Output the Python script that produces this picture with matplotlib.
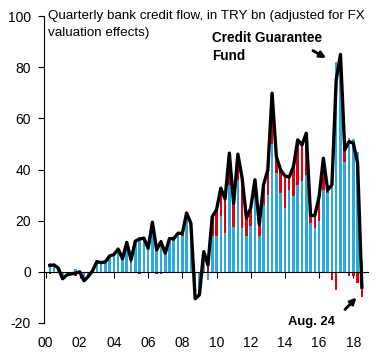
import numpy as np
import matplotlib
matplotlib.use("Agg")
import matplotlib.pyplot as plt

# Quarterly data, 2000Q1 onwards (quarter-end positions)
total = [2.5, 2.7, 1.4, -2.7, -1.2, -0.8, -0.5, 0.0,
         -3.5, -1.8, 0.4, 4.0, 3.6, 3.9, 6.2, 6.8,
         8.9, 5.1, 11.5, 4.7, 12.0, 12.8, 13.2, 9.2,
         19.4, 8.6, 11.8, 7.3, 13.0, 13.0, 15.1, 15.0,
         23.0, 19.0, -10.5, -9.0, 7.9, 2.7, 21.6, 24.2,
         32.7, 28.5, 46.4, 26.8, 46.0, 36.5, 21.0, 24.9,
         36.0, 18.5, 34.0, 39.8, 69.8, 45.0, 39.8, 37.5,
         37.0, 41.1, 51.6, 49.6, 54.2, 22.0, 22.0, 29.4,
         44.4, 32.0, 34.0, 75.0, 85.0, 47.7, 50.9, 50.3,
         42.5, -6.0]
blue = [3.3, 2.7, 1.4, -2.0, -1.2, -0.8, 1.0, 0.5,
        -2.8, -1.8, 0.4, 3.0, 3.6, 3.9, 6.2, 6.8,
        8.9, 5.1, 11.5, 3.5, 12.0, 13.6, 13.2, 9.2,
        19.4, 9.4, 12.6, 7.3, 13.0, 12.0, 15.1, 14.2,
        23.0, 19.0, -10.5, -9.0, 7.9, -3.0, 14.0, 14.0,
        22.0, 15.0, 34.0, 17.7, 36.0, 17.0, 14.0, 18.0,
        29.0, 14.0, 26.0, 30.0, 50.0, 38.5, 31.0, 25.0,
        32.0, 29.5, 34.0, 35.5, 38.0, 19.0, 17.0, 20.0,
        32.0, 31.0, 37.0, 82.0, 85.0, 43.0, 52.5, 52.0,
        47.0, 4.0]
red = [-0.8, 0.0, 0.0, -0.7, 0.0, 0.0, -1.5, -0.5,
       -0.7, 0.0, 0.0, 1.0, 0.0, 0.0, 0.0, 0.0,
       0.0, 0.0, 0.0, 1.2, 0.0, -0.8, 0.0, 0.0,
       0.0, -0.8, -0.8, 0.0, 0.0, 1.0, 0.0, 0.8,
       0.0, 0.0, 0.0, 0.0, 0.0, 3.5, 7.6, 10.2,
       10.7, 13.5, 12.4, 9.1, 10.0, 19.5, 7.0, 6.9,
       7.0, 4.5, 8.0, 9.8, 19.8, 6.5, 8.8, 12.5,
       5.0, 11.6, 17.6, 14.1, 16.2, 3.0, 5.0, 9.4,
       12.4, 1.0, -3.0, -7.0, 0.0, 4.7, -1.6, -1.7,
       -4.5, -10.0]

y_ticks = [-20, 0, 20, 40, 60, 80, 100]
x_tick_years = list(range(2000, 2019, 2))
x_tick_labels = ["00", "02", "04", "06", "08", "10", "12", "14", "16", "18"]

n = len(total)
x = 2000.25 + 0.25 * np.arange(n)
blue_a = np.array(blue)
red_a = np.array(red)

# Excel-like stacking: positives stack on positives, negatives on negatives
red_bottom = np.where(red_a >= 0, np.maximum(blue_a, 0), np.minimum(blue_a, 0))

BLUE = "#29ABE2"
RED = "#E3000F"

plt.rcParams['font.family'] = ['Liberation Sans', 'DejaVu Sans']
fig = plt.figure(figsize=(3.83, 3.60), dpi=100)
ax = fig.add_axes([44/383, 37/360, 324/383, 307/360])

w = 0.15
ax.bar(x, blue_a, width=w, color=BLUE, zorder=2, linewidth=0)
ax.bar(x, red_a, width=w, bottom=red_bottom, color=RED, zorder=2, linewidth=0)
ax.plot(x, total, color="black", lw=2.4, zorder=3, solid_joinstyle='round')

ax.set_xlim(1999.91, 2018.86)
ax.set_ylim(-20, 100)
ax.set_yticks(y_ticks)
ax.set_yticklabels([str(v) for v in y_ticks], fontsize=10)
ax.set_xticks(x_tick_years)
ax.set_xticklabels(x_tick_labels, fontsize=10)

for s in ['top', 'right']:
    ax.spines[s].set_visible(False)
ax.spines['bottom'].set_position(('data', 0))
ax.spines['left'].set_linewidth(0.8)
ax.spines['bottom'].set_linewidth(0.8)
ax.tick_params(axis='x', direction='out', length=4, width=0.8, pad=42)
ax.tick_params(axis='y', direction='out', length=4, width=0.8, pad=5.5)

ax.text(0.012, 1.0, "Quarterly bank credit flow, in TRY bn (adjusted for FX",
        transform=ax.transAxes, ha='left', va='center', fontsize=9.6)
ax.text(0.012, 0.945, "valuation effects)",
        transform=ax.transAxes, ha='left', va='center', fontsize=9.6)
ax.text(0.52, 0.95, "Credit Guarantee\nFund", transform=ax.transAxes, ha='left', va='top',
        fontsize=9.8, fontweight='bold', linespacing=1.3)
ax.text(0.752, 0.003, "Aug. 24", transform=ax.transAxes, ha='left', va='center',
        fontsize=9.4, fontweight='bold')

ax.annotate("", xy=(2016.55, 83.0), xytext=(2015.5, 87.0),
            arrowprops=dict(arrowstyle='-|>', color='black', lw=2, mutation_scale=9))
ax.annotate("", xy=(2018.3, -9.3), xytext=(2017.4, -15.5),
            arrowprops=dict(arrowstyle='-|>', color='black', lw=2, mutation_scale=9))

fig.savefig("out.png", dpi=100)
